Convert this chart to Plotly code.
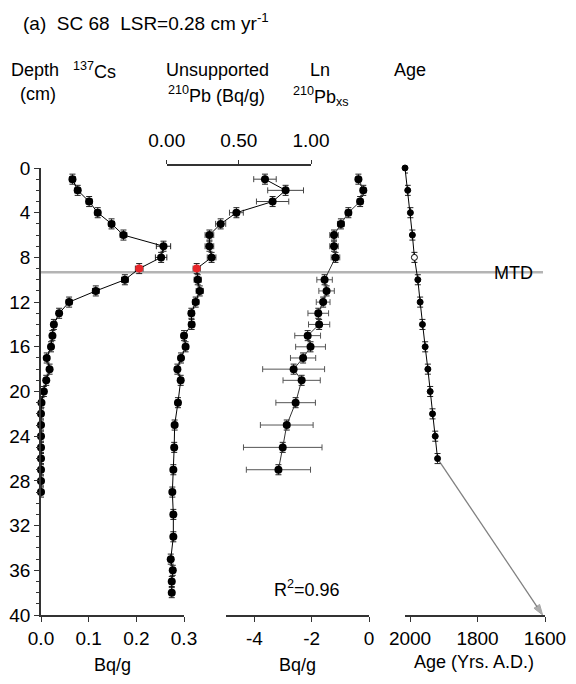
import plotly.graph_objects as go

W, H = 576, 684
def px(x):
    return x / W
def py(y):
    return 1 - y / H

FONT = "Liberation Sans, Arial, sans-serif"

# ---------------- data ----------------
cs_depth = list(range(1, 30))
cs_val = [0.066, 0.077, 0.101, 0.119, 0.148, 0.173, 0.257, 0.252, 0.206, 0.176,
          0.115, 0.059, 0.038, 0.027, 0.024, 0.021, 0.012, 0.018, 0.011, 0.006,
          0.001, 0.0, 0.0, 0.0, 0.0, 0.0, 0.0, 0.0, 0.0]
cs_err = [0.006, 0.006, 0.006, 0.006, 0.006, 0.007, 0.015, 0.012, 0.008, 0.007,
          0.007, 0.006, 0.005, 0.004, 0.004, 0.004, 0.004, 0.004, 0.004, 0.003,
          0.003, 0.003, 0.003, 0.003, 0.003, 0.003, 0.003, 0.003, 0.003]

pb_depth = [1, 2, 3, 4, 5, 6, 7, 8, 9, 10, 11, 12, 13, 14, 15, 16, 17, 18, 19,
            21, 23, 25, 27, 29, 31, 33, 35, 36, 37, 38]
pb_val = [0.681, 0.824, 0.734, 0.483, 0.374, 0.296, 0.296, 0.311, 0.208, 0.215,
          0.229, 0.201, 0.171, 0.173, 0.120, 0.131, 0.099, 0.074, 0.097, 0.078,
          0.055, 0.052, 0.046, 0.039, 0.046, 0.046, 0.028, 0.042, 0.035, 0.035]
pb_err = [0.078, 0.124, 0.112, 0.048, 0.035, 0.030, 0.030, 0.030, 0.025, 0.025,
          0.025, 0.022, 0.020, 0.020, 0.018, 0.018, 0.016, 0.016, 0.016, 0.015,
          0.015, 0.015, 0.015, 0.015, 0.015, 0.015, 0.015, 0.015, 0.015, 0.015]

ln_depth = [1, 2, 3, 4, 5, 6, 7, 8, 10, 11, 12, 13, 14, 15, 16, 17, 18, 19, 21, 23, 25, 27]
ln_val = [-0.37, -0.20, -0.31, -0.72, -0.98, -1.22, -1.22, -1.17, -1.55, -1.48, -1.60,
          -1.77, -1.74, -2.14, -2.04, -2.30, -2.63, -2.35, -2.56, -2.87, -3.01, -3.16]
ln_err = [0.08, 0.10, 0.10, 0.10, 0.12, 0.15, 0.15, 0.15, 0.27, 0.27, 0.24,
          0.36, 0.37, 0.45, 0.52, 0.44, 1.08, 0.65, 0.69, 0.92, 1.37, 1.12]

age_depth = [0, 2, 4, 6, 8, 10, 12, 14, 16, 18, 20, 22, 24, 26]
age_year = [2014.9, 2006.9, 1999.0, 1993.1, 1987.1, 1977.0, 1970.1, 1963.3,
            1955.2, 1947.2, 1940.3, 1933.4, 1925.4, 1918.5]
age_err = [1.5, 1.5, 1.5, 1.5, 1.5, 2, 2, 2, 2.5, 2.5, 3, 3, 3.5, 4]
extrap_depth = [26, 40]
extrap_year = [1918.5, 1607]

depth_err = 0.45
MTD_DEPTH = 9.33
RED_DEPTH = 9
OPEN_AGE_DEPTH = 8
r_squared = "0.96"

cs_ticks = [0.0, 0.1, 0.2, 0.3]
pb_ticks = [0.0, 0.5, 1.0]
ln_ticks = [-4, -2, 0]
age_ticks = [2000, 1800, 1600]
depth_ticks = list(range(0, 41, 4))

# ---------------- figure ----------------
fig = go.Figure()

def ebar(arr, w=3, color="#222"):
    return dict(type="data", array=arr, visible=True, thickness=1, width=w, color=color)

def ey():
    return dict(type="constant", value=depth_err, visible=True, thickness=1, width=3, color="#222")

fig.add_trace(go.Scatter(
    x=cs_val, y=cs_depth, xaxis="x", yaxis="y", mode="lines+markers",
    line=dict(color="black", width=1),
    marker=dict(size=8, color=["#e8262a" if d == RED_DEPTH else "black" for d in cs_depth]),
    error_x=ebar(cs_err), error_y=ey(), cliponaxis=False, showlegend=False))

fig.add_trace(go.Scatter(
    x=pb_val, y=pb_depth, xaxis="x2", yaxis="y", mode="lines+markers",
    line=dict(color="black", width=1),
    marker=dict(size=8, color=["#e8262a" if d == RED_DEPTH else "black" for d in pb_depth]),
    error_x=ebar(pb_err, color="#444"), error_y=ey(), cliponaxis=False, showlegend=False))

fig.add_trace(go.Scatter(
    x=ln_val, y=ln_depth, xaxis="x3", yaxis="y", mode="lines+markers",
    line=dict(color="#333", width=1),
    marker=dict(size=8, color="black"),
    error_x=ebar(ln_err, color="#555"), error_y=ey(), cliponaxis=False, showlegend=False))

fig.add_trace(go.Scatter(
    x=extrap_year, y=extrap_depth, xaxis="x4", yaxis="y", mode="lines+markers",
    line=dict(color="#808080", width=1.3),
    marker=dict(size=[0, 11], symbol="arrow", angleref="previous", color="#8a8a8a"),
    cliponaxis=False, showlegend=False))

fig.add_trace(go.Scatter(
    x=age_year, y=age_depth, xaxis="x4", yaxis="y", mode="lines+markers",
    line=dict(color="black", width=1),
    marker=dict(size=6, color=["white" if d == OPEN_AGE_DEPTH else "black" for d in age_depth],
                line=dict(color="black", width=1)),
    error_x=ebar(age_err, w=2), error_y=ey(), cliponaxis=False, showlegend=False))

axis_common = dict(showgrid=False, zeroline=False, showline=True, linecolor="#333",
                   linewidth=1.5, ticks="outside", tickwidth=1.3, tickcolor="#333",
                   tickfont=dict(family=FONT, size=19, color="black"), fixedrange=True,
                   automargin=False)

def hyph(v):
    return str(v).replace("\u2212", "-")

fig.update_layout(
    width=W, height=H, margin=dict(l=0, r=0, t=0, b=0, autoexpand=False),
    paper_bgcolor="white", plot_bgcolor="rgba(0,0,0,0)",
    font=dict(family=FONT, size=18, color="black"),
    yaxis=dict(domain=[py(615), py(168)], range=[40, 0], anchor="x", ticklen=5,
               tickvals=depth_ticks, minor=dict(dtick=1, ticks="outside", ticklen=3,
                                                tickcolor="#333"),
               **axis_common),
    xaxis=dict(domain=[px(41), px(184)], range=[0, 0.3], anchor="y", ticklen=5,
               tickvals=cs_ticks, ticktext=[f"{v:.1f}" for v in cs_ticks], **axis_common),
    xaxis2=dict(domain=[px(166.7), px(311)], range=[0, 1], anchor="free", position=py(165),
                side="top", tickvals=pb_ticks, ticktext=[f"{v:.2f}" for v in pb_ticks],
                ticklabelstandoff=6, ticklen=4, **axis_common),
    xaxis3=dict(domain=[px(225.7), px(369)], range=[-5, 0], anchor="y", ticklen=5,
                tickvals=ln_ticks, ticktext=[hyph(v) for v in ln_ticks], **axis_common),
    xaxis4=dict(domain=[px(405), px(545)], range=[2015, 1600], anchor="y", ticklen=5,
                tickvals=age_ticks, ticktext=[str(v) for v in age_ticks], **axis_common),
)

fig.add_shape(type="line", xref="paper", yref="y", x0=px(41), x1=px(543),
              y0=MTD_DEPTH, y1=MTD_DEPTH, line=dict(color="#b4b4b4", width=2.5), layer="below")

def note(text, x, y, size=18, xanchor="center"):
    fig.add_annotation(text=text, x=px(x), y=py(y), xref="paper", yref="paper",
                       showarrow=False, xanchor=xanchor, yanchor="middle", align=xanchor,
                       borderpad=0,
                       font=dict(family=FONT, size=size, color="black"))

note("(a)\u00a0\u00a0SC 68\u00a0\u00a0LSR=0.28 cm yr<sup>-1</sup>", 22, 22, size=19, xanchor="left")
note("Depth", 35, 70)
note("(cm)", 37.5, 94)
note("<sup>137</sup>Cs", 94, 70)
note("Unsupported", 217, 70)
note("<sup>210</sup>Pb (Bq/g)", 216.5, 94)
note("Ln", 320, 70)
note("<sup>210</sup>Pb<sub>xs</sub>", 321, 96)
note("Age", 410, 70)
note("Bq/g", 112, 665)
note("Bq/g", 297, 665)
note("Age (Yrs. A.D.)", 473.5, 662)
note("R<sup>2</sup>=" + r_squared, 307, 588)
note("MTD", 513, 273)

fig.write_html("out.html")
